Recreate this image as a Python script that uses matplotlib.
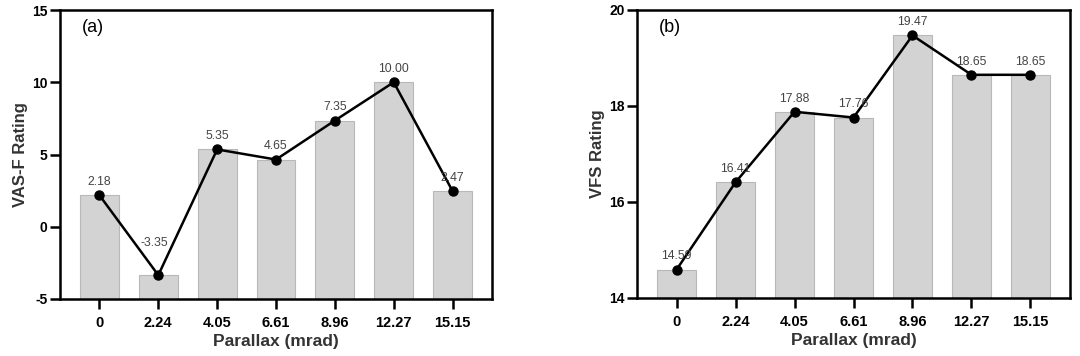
import matplotlib
matplotlib.use("Agg")
import matplotlib.pyplot as plt
import numpy as np

plt.rcParams['font.family'] = ['Liberation Sans', 'DejaVu Sans']

categories = ["0", "2.24", "4.05", "6.61", "8.96", "12.27", "15.15"]
vasf_values = [2.18, -3.35, 5.35, 4.65, 7.35, 10.00, 2.47]
vfs_values = [14.59, 16.41, 17.88, 17.76, 19.47, 18.65, 18.65]
vasf_ticks = [-5, 0, 5, 10, 15]
vfs_ticks = [14, 16, 18, 20]

fig = plt.figure(figsize=(10.8, 3.56), dpi=100)
ax1 = fig.add_axes([60/1080, 1-299/356, 432/1080, 289/356])
ax2 = fig.add_axes([637/1080, 1-298/356, 433/1080, 288/356])

def draw(ax, vals, ticks, ylabel, panel, label_offsets=None):
    x = np.arange(len(categories))
    base = ticks[0]
    ax.bar(x, np.array(vals) - base, bottom=base, width=0.66,
           color='#d3d3d3', edgecolor='#b8b8b8', linewidth=0.8, zorder=1)
    ax.plot(x, vals, color='black', lw=1.8, marker='o', ms=6.5, zorder=3)
    rng = ticks[-1] - ticks[0]
    for i, (xi, v) in enumerate(zip(x, vals)):
        dx, dy = (0, 0.025)
        if label_offsets and i in label_offsets:
            dx, dy = label_offsets[i]
        ax.text(xi + dx, v + rng*dy, f"{v:.2f}", ha='center', va='bottom',
                fontsize=8.8, color='#444444', zorder=4)
    ax.set_ylim(ticks[0], ticks[-1])
    ax.set_xlim(-0.67, len(categories) - 1 + 0.67)
    ax.set_yticks(ticks)
    ax.set_yticklabels([str(t) for t in ticks], fontsize=10, fontweight='bold')
    ax.set_xticks(x)
    ax.set_xticklabels(categories, fontsize=10.5, fontweight='bold')
    for s in ax.spines.values():
        s.set_linewidth(1.8)
    ax.tick_params(axis='both', direction='out', length=7, width=1.8, color='black')
    ax.tick_params(axis='x', pad=5)
    ax.tick_params(axis='y', pad=2)
    ax.set_ylabel(ylabel, fontsize=12, fontweight='bold', color='#333333', labelpad=3)
    ax.set_xlabel("Parallax (mrad)", fontsize=12.5, fontweight='bold', color='#333333', labelpad=3)
    ax.text(0.05, 0.968, panel, transform=ax.transAxes, fontsize=13, ha='left', va='top')

draw(ax1, vasf_values, vasf_ticks, "VAS-F Rating", "(a)", label_offsets={1: (-0.07, 0.09)})
draw(ax2, vfs_values, vfs_ticks, "VFS Rating", "(b)")

fig.savefig("out.png", dpi=100)
